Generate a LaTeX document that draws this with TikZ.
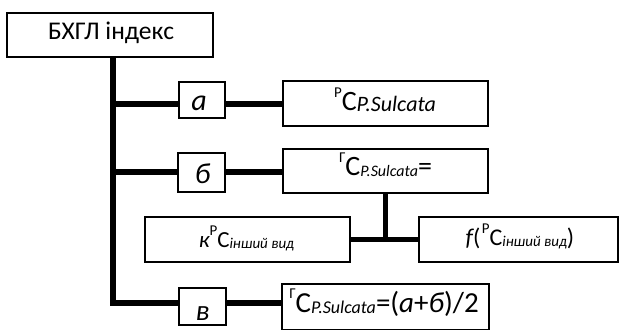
\documentclass[tikz,border=0pt]{standalone}
\usepackage{fontspec}
\setmainfont{Carlito}
\newcommand\fsz[1]{\fontsize{#1pt}{#1pt}\selectfont}
\newcommand\mysup[2]{\raisebox{#2pt}{\fsz{15}#1}}
\newcommand\mysub[2]{\raisebox{-1pt}{\fsz{#2}\itshape #1}}
\begin{document}
\begin{tikzpicture}[x=1pt,y=-1pt,
  box/.style={draw, line width=1.8pt, inner sep=0pt},
  lbox/.style={draw, line width=1.3pt, inner sep=0pt},
  conn/.style={line width=5.5pt, line join=miter},
  txt/.style={anchor=base, inner sep=0pt}]
\useasboundingbox (0,0) rectangle (620,329);
\clip (0,0) rectangle (620,329);
% boxes
\node[box, minimum width=206pt, minimum height=44pt] (top) at (110,35) {};
\node[lbox, minimum width=46pt, minimum height=36pt] (ab) at (202,100) {};
\node[box, minimum width=205pt, minimum height=45pt] (pc) at (385.5,103.5) {};
\node[lbox, minimum width=47pt, minimum height=39pt] (bb) at (201.5,172.5) {};
\node[box, minimum width=205pt, minimum height=44pt] (gc) at (385.5,171) {};
\node[box, minimum width=205pt, minimum height=45pt] (kc) at (247.5,239.5) {};
\node[box, minimum width=199pt, minimum height=45pt] (fc) at (518.5,239.5) {};
\node[lbox, minimum width=47pt, minimum height=37pt] (vb) at (202.5,306.5) {};
\node[box, minimum width=207pt, minimum height=46pt] (gv) at (385.5,307) {};
% connectors
\coordinate (tb) at (113,303);
\coordinate (ya) at (113,104);
\coordinate (yb) at (113,172);
\draw[conn] (top.south -| tb) -- (tb) -- (vb.west |- tb);
\draw[conn] (vb.east |- tb) -- (gv.west |- tb);
\draw[conn] (ya) -- (ab.west |- ya);
\draw[conn] (ab.east |- ya) -- (pc.west |- ya);
\draw[conn] (yb) -- (bb.west |- yb);
\draw[conn] (bb.east |- yb) -- (gc.west |- yb);
\draw[conn] (gc.south) -- (gc.south |- kc.east);
\draw[conn] (kc.east) -- (fc.west);
% texts
\node[txt] (ttop) at (111,40) {\fsz{25.5}БХГЛ індекс};
\node[txt] (ta) at (199,110) {\fsz{30}\itshape а};
\node[txt] (tb2) at (202.5,183) {\fsz{29}\itshape б};
\node[txt] (tv) at (202.5,320) {\fsz{29}\itshape в};
\node[txt] (tpc) at (385,110) {\mysup{Р}{13}\fsz{28}C\mysub{P.Sulcata}{22}};
\node[txt] (tgc) at (385.5,175) {\mysup{Г}{13}\fsz{28}C\mysub{P.Sulcata}{16}\fsz{28}=};
\node[txt] (tkc) at (246.5,247) {\fsz{23}\itshape к\upshape\mysup{Р}{12}\fsz{23}C\mysub{інший вид}{15}};
\node[txt] (tfc) at (520,245) {\fsz{24}\itshape f\upshape(\kern1.5pt\mysup{Р}{12}\fsz{24}C\mysub{інший вид}{15}\fsz{24})};
\node[txt] (tgv) at (384,312) {\mysup{Г}{14}\fsz{29}C\mysub{P.Sulcata}{18}\fsz{29}=(\textit{а}+\textit{б})/2};
\end{tikzpicture}
\end{document}
